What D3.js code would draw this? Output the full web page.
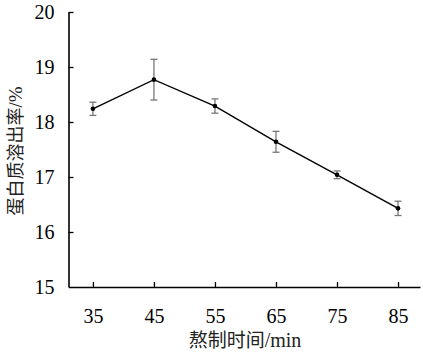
<!DOCTYPE html>
<html><head><meta charset="utf-8">
<script src="https://cdn.jsdelivr.net/npm/d3@7"></script>
<style>body{margin:0;background:#fff}svg{display:block}
.serif{font-family:"Liberation Serif","Times New Roman","DejaVu Serif",serif}
.cjk{font-family:"Noto Sans CJK SC",sans-serif}</style>
</head><body>
<script>
const times = [35, 45, 55, 65, 75, 85];
const yieldVals = [18.24, 18.77, 18.29, 17.64, 17.04, 16.43];
const errVals = [0.12, 0.37, 0.13, 0.19, 0.07, 0.13];
const yTicks = [15, 16, 17, 18, 19, 20];
const xLabel = ["熬制时间", "/min"];
const yLabel = ["蛋白质溶出率", "/%"];

const W = 423, H = 356;
const svg = d3.select("body").append("svg").attr("width", W).attr("height", H);
const x = d3.scaleLinear().domain([31, 88.6]).range([68.5, 420]);
const y = d3.scaleLinear().domain([15, 20]).range([287, 12]);

// axes
const xAxis = svg.append("g").attr("transform", `translate(0,${y(15)})`)
  .call(d3.axisBottom(x).tickValues(times).tickFormat(d3.format("d")).tickSize(-5).tickSizeOuter(0).tickPadding(22));
const yAxis = svg.append("g").attr("transform", `translate(${x(31)},0)`)
  .call(d3.axisLeft(y).tickValues(yTicks).tickFormat(d3.format("d")).tickSize(-5).tickSizeOuter(0).tickPadding(14));
[xAxis, yAxis].forEach(g => {
  g.attr("font-family", null).attr("font-size", null);
  g.select(".domain").attr("stroke", "#000").attr("stroke-width", 1.6);
  g.selectAll(".tick line").attr("stroke", "#000").attr("stroke-width", 1.3);
  g.selectAll("text").attr("class", "serif").style("font-size", "20px").attr("fill", "#000");
});
yAxis.selectAll(".tick").filter(d => d === 15).select("line").remove();

// line
svg.append("path").datum(times.map((t, i) => [t, yieldVals[i]]))
  .attr("fill", "none").attr("stroke", "#000").attr("stroke-width", 1.4)
  .attr("d", d3.line().x(d => x(d[0])).y(d => y(d[1])));

// error bars
const eb = svg.append("g").attr("stroke", "#777").attr("stroke-width", 1.3);
times.forEach((t, i) => {
  const cx = x(t), y1 = y(yieldVals[i] + errVals[i]), y2 = y(yieldVals[i] - errVals[i]);
  eb.append("line").attr("x1", cx).attr("x2", cx).attr("y1", y1).attr("y2", y2);
  eb.append("line").attr("x1", cx - 3.5).attr("x2", cx + 3.5).attr("y1", y1).attr("y2", y1);
  eb.append("line").attr("x1", cx - 3.5).attr("x2", cx + 3.5).attr("y1", y2).attr("y2", y2);
});

// points
svg.append("g").selectAll("circle").data(times).join("circle")
  .attr("cx", d => x(d)).attr("cy", (d, i) => y(yieldVals[i])).attr("r", 2.3).attr("fill", "#000");

// labels
const xl = svg.append("text").attr("x", 245).attr("y", 347).attr("text-anchor", "middle")
  .style("font-size", "19px").attr("fill", "#222");
xl.append("tspan").attr("class", "cjk").text(xLabel[0]);
xl.append("tspan").attr("class", "serif").style("font-size", "20px").text(xLabel[1]);
const yl = svg.append("text").attr("transform", "translate(22,151) rotate(-90)").attr("text-anchor", "middle")
  .style("font-size", "18px").attr("fill", "#222");
yl.append("tspan").attr("class", "cjk").text(yLabel[0]);
yl.append("tspan").attr("class", "serif").style("font-size", "19px").text(yLabel[1]);
</script>
</body></html>
